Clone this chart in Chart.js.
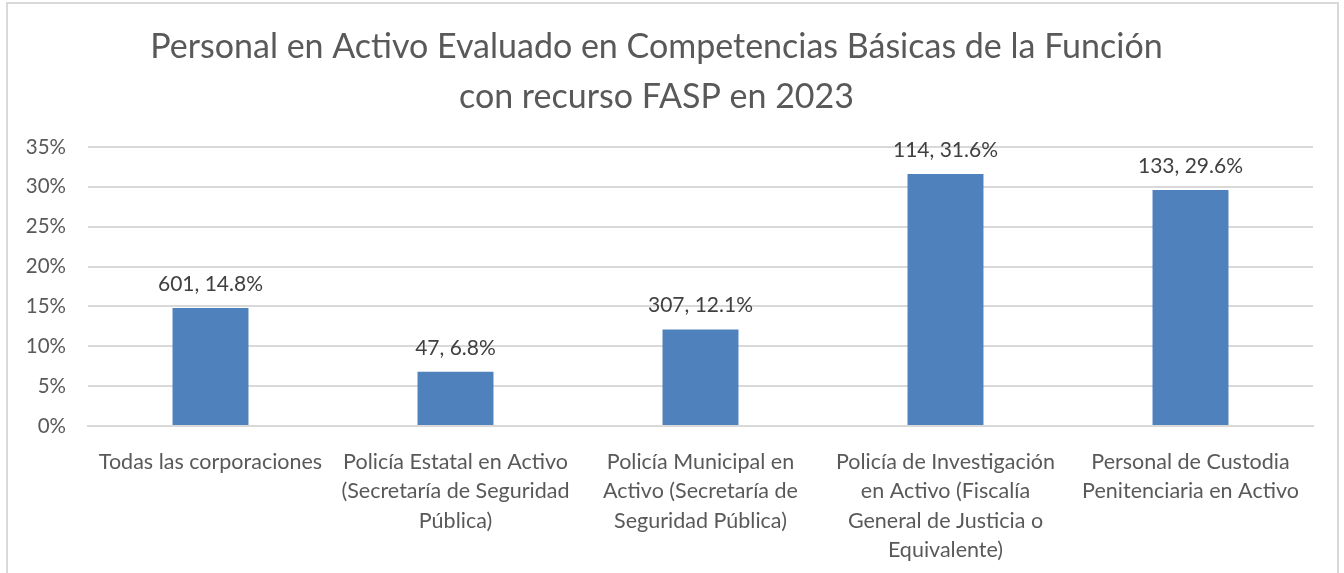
<!DOCTYPE html>
<html>
<head>
<meta charset="utf-8">
<script src="https://cdn.jsdelivr.net/npm/chart.js@4"></script>
<style>
  html, body { margin: 0; padding: 0; background: #fff; overflow: hidden; }
  #wrap { position: relative; width: 1344px; height: 573px; }
  #frame {
    position: absolute; left: 6px; top: 2px; width: 1333px; height: 700px;
    border: 2px solid #d9d9d9; box-sizing: border-box; pointer-events: none;
  }
</style>
</head>
<body>
<div id="wrap">
  <canvas id="chart" width="1344" height="573"></canvas>
  <div id="frame"></div>
</div>
<script>
const categorias = [
  ["Todas las corporaciones"],
  ["Policía Estatal en Activo", "(Secretaría de Seguridad", "Pública)"],
  ["Policía Municipal en", "Activo (Secretaría de", "Seguridad Pública)"],
  ["Policía de Investigación", "en Activo (Fiscalía", "General de Justicia o", "Equivalente)"],
  ["Personal de Custodia", "Penitenciaria en Activo"]
];
const personal = [601, 47, 307, 114, 133];
const porcentajes = [14.8, 6.8, 12.1, 31.6, 29.6];
const ticksY = [0, 5, 10, 15, 20, 25, 30, 35];

const FONT = "Lato, 'Open Sans', sans-serif";

// etiquetas de datos encima de cada barra
const etiquetasPlugin = {
  id: "etiquetas",
  afterDatasetsDraw(chart) {
    const ctx = chart.ctx;
    const meta = chart.getDatasetMeta(0);
    ctx.save();
    ctx.font = "21px " + FONT;
    ctx.fillStyle = "#404040";
    ctx.textAlign = "center";
    ctx.textBaseline = "middle";
    meta.data.forEach((bar, i) => {
      ctx.fillText(personal[i] + ", " + porcentajes[i].toFixed(1) + "%", bar.x, bar.y - 24);
    });
    ctx.restore();
  }
};

new Chart(document.getElementById("chart"), {
  type: "bar",
  data: {
    labels: categorias,
    datasets: [{
      data: porcentajes,
      backgroundColor: "#4f81bd",
      categoryPercentage: 1,
      barPercentage: 0.31
    }]
  },
  options: {
    responsive: false,
    animation: false,
    layout: { padding: { left: 0, right: 31, top: 0, bottom: 0 } },
    plugins: {
      legend: { display: false },
      tooltip: { enabled: false },
      title: {
        display: true,
        text: ["Personal en Activo Evaluado en Competencias Básicas de la Función", "con recurso FASP en 2023"],
        color: "#595959",
        font: { family: FONT, size: 34, weight: "normal", lineHeight: 1.47 },
        padding: { top: 22, bottom: 25 }
      }
    },
    scales: {
      x: {
        grid: { display: false },
        border: { color: "#d9d9d9", width: 2 },
        ticks: {
          color: "#595959",
          font: { family: FONT, size: 21.5, lineHeight: 1.35 },
          padding: 14,
          maxRotation: 0,
          autoSkip: false
        },
        afterFit(scale) { scale.height = 147; }
      },
      y: {
        min: 0,
        max: 35,
        afterBuildTicks(scale) { scale.ticks = ticksY.map(v => ({ value: v })); },
        grid: { color: "#d9d9d9", lineWidth: 2, drawTicks: false },
        border: { display: false },
        ticks: {
          color: "#595959",
          font: { family: FONT, size: 20.5 },
          padding: 22,
          callback: v => v + "%"
        },
        afterFit(scale) { scale.width = 88; }
      }
    }
  },
  plugins: [etiquetasPlugin]
});
</script>
</body>
</html>
